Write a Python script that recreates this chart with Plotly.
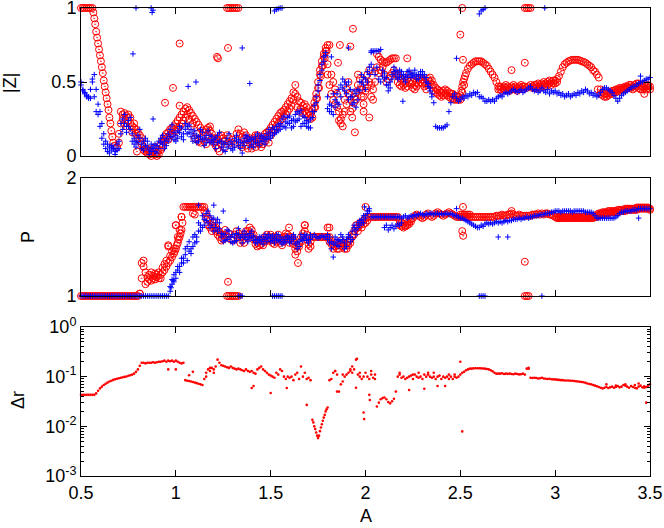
import numpy as np
import plotly.graph_objects as go

N = None
# parameter A, sampled every 0.01 from 0.5 to 3.5
A = np.round(np.linspace(0.5, 3.5, 301), 2)

# ---- |Z| panel ----
zr_a = [
    1, 1, 1, 1, 1, 1, 1, 0.93, 0.84, 0.76,
    0.68, 0.60, 0.51, 0.43, 0.35, 0.26, 0.17, 0.09, 0.07, 0.06,
    0.09, 0.22, 0.28, 0.29, 0.27, 0.24, 0.22, 0.20, 0.19, 0.15,
    0.12, 0.10, 0.08, 0.06, 0.03, 0.02, 0.01, 0.02, 0.03, 0.01,
    0.02, 0.04, 0.08, 0.10, 0.13, 0.15, 0.16, 0.18, 0.19, 0.20,
    0.22, 0.24, 0.26, 0.28, 0.30, 0.32, 0.33, 0.31, 0.29, 0.27,
    0.25, 0.23, 0.21, 0.19, 0.17, 0.16, 0.18, 0.19, 0.17, 0.15,
    0.12, 0.10, 0.11, 0.13, 0.14, 0.12, 0.10, 1, 1, 1,
    1, 1, 1, 1, 0.15, 0.13, 0.12, 0.14, 0.11, 0.09,
    0.10, 0.12, 0.14, 0.11, 0.08, 0.10, 0.13, 0.15, 0.16, 0.17,
    0.19, 0.21, 0.23, 0.25, 0.27, 0.29, 0.30, 0.31, 0.33, 0.35,
    0.37, 0.39, 0.43, 0.48, 0.40, 0.37, 0.36, 0.34, 0.35, 0.33,
    0.30, 0.28, 0.31, 0.36, 0.42, 0.50, 0.58, 0.64, 0.69, 0.73,
    0.75, 0.75, 0.55, 0.50, 0.45, 0.42, 0.30, 0.25, 0.28, 0.38,
    0.45, 0.42, 0.38, 0.32, 0.36, 0.43, 0.48, 0.52, 0.45, 0.40,
    0.50, 0.55, 0.58, 0.48, 0.45, 0.57, 0.69, 0.67, 0.65, 0.64,
    0.63, 0.63, 0.64, 0.65, 0.66, 0.66, 0.66, 0.55, 0.53, 0.52,
    0.50, 0.49, 0.52, 0.55, 0.53, 0.50, 0.48, 0.50, 0.52, 0.53,
    0.52, 0.50, 0.48, 0.52, 0.53, 0.51, 0.48, 0.46, 0.45, 0.44,
    0.43, 0.44, 0.45, 0.44, 0.43, 0.42, 0.42, 0.41, 0.40, 0.40,
    0.41, 0.47, 0.52, 0.56, 0.59, 0.61, 0.62, 0.63, 0.64, 0.64,
    0.64, 0.64, 0.63, 0.62, 0.61, 0.59, 0.57, 0.55, 0.53, 0.50,
    0.47, 0.47, 0.46, 0.47, 0.48, 0.47, 0.46, 0.47, 0.48, 0.47,
    0.46, 0.47, 0.48, 0.47, 1, 1, 1, 1, 0.47, 0.48,
    0.48, 0.49, 0.48, 0.49, 0.50, 0.49, 0.50, 0.51, 0.50, 0.51,
    0.51, 0.52, 0.54, 0.57, 0.60, 0.62, 0.63, 0.64, 0.645, 0.65,
    0.65, 0.65, 0.65, 0.645, 0.64, 0.635, 0.63, 0.62, 0.61, 0.60,
    0.58, 0.57, 0.55, 0.53, 0.45, 0.43, 0.42, 0.42, 0.43, 0.43,
    0.44, 0.44, 0.45, 0.45, 0.46, 0.46, 0.46, 0.47, 0.47, 0.48,
    0.48, 0.47, 0.48, 0.49, 0.49, 0.48, 0.47, 0.48, 0.47, 0.48,
    0.47,
]
zr_b = [
    N, N, N, N, N, N, N, N, N, N,
    N, N, N, N, N, N, N, N, N, N,
    0.15, 0.30, 0.25, 0.22, 0.20, 0.28, 0.26, 0.16, 0.22, 0.18,
    0.16, 0.14, 0.12, 0.04, 0.05, 0.05, 0.03, 0.00, 0.05, 0.06,
    0.00, 0.01, 0.04, 0.06, 0.10, 0.12, 0.11, 0.14, 0.15, 0.13,
    0.17, 0.19, 0.20, 0.22, 0.24, 0.26, 0.28, 0.25, 0.20, 0.22,
    0.12, 0.15, 0.10, 0.09, 0.12, 0.10, 0.08, 0.14, 0.20, 0.12,
    0.09, 0.07, 0.05, 0.03, 0.08, 0.10, 0.06, 0.14, 0.12, 0.09,
    0.11, 0.08, 0.15, 0.18, 0.08, 0.06, 0.16, 0.07, 0.05, 0.12,
    0.05, 0.08, 0.06, 0.14, 0.12, 0.06, 0.08, 0.10, 0.12, 0.09,
    0.14, 0.16, 0.18, 0.20, 0.22, 0.24, 0.25, 0.27, 0.28, 0.30,
    0.32, 0.34, 0.38, 0.42, 0.33, 0.30, 0.32, 0.29, 0.30, 0.29,
    0.27, 0.25, 0.26, 0.33, 0.39, 0.46, 0.55, 0.61, 0.67, 0.71,
    0.62, 0.48, 0.42, 0.38, 0.35, 0.33, 0.24, 0.22, 0.20, 0.30,
    0.35, 0.50, 0.30, 0.26, 0.40, 0.38, 0.55, 0.45, 0.40, 0.35,
    0.44, 0.46, 0.50, 0.40, 0.38, 0.50, 0.60, 0.56, 0.58, 0.60,
    0.55, 0.50, 0.52, 0.54, 0.56, 0.58, 0.55, 0.50, 0.48, 0.47,
    0.48, 0.46, 0.47, 0.50, 0.49, 0.46, 0.45, 0.47, 0.49, 0.50,
    0.49, 0.47, 0.45, 0.48, 0.50, 0.48, 0.44, 0.43, 0.42, 0.41,
    0.40, 0.41, 0.42, 0.41, 0.40, 0.39, 0.39, 0.38, 0.38, 0.38,
    0.38, 0.43, 0.48, N, N, N, N, N, N, N,
    N, N, N, N, N, N, N, N, N, N,
    0.45, 0.45, 0.44, 0.45, 0.46, 0.45, 0.44, 0.45, 0.46, 0.45,
    0.44, 0.45, 0.46, 0.45, 0.47, 0.46, 0.47, 0.48, 0.46, 0.46,
    0.46, 0.47, 0.46, 0.47, 0.48, 0.47, 0.48, 0.49, 0.48, 0.49,
    0.49, 0.50, N, N, N, N, N, N, N, N,
    N, N, N, N, N, N, N, N, N, N,
    N, N, N, N, 0.42, 0.41, 0.40, 0.40, 0.41, 0.42,
    0.42, 0.43, 0.43, 0.44, 0.44, 0.45, 0.45, 0.45, 0.46, 0.46,
    0.46, 0.45, 0.46, 0.47, 0.46, 0.45, 0.45, 0.46, 0.45, 0.46,
    0.45,
]
zr_ex_x = [0.565, 0.575, 0.585, 0.595, 0.605, 0.615, 0.625, 0.635, 0.645, 0.655, 0.665,
           1.735, 1.745, 1.755, 1.765, 1.775, 1.785, 1.795, 2.505, 2.515, 2.525,
           1.02, 1.217, 1.222, 1.275, 0.985, 0.943, 1.02, 0.795,
           1.934, 1.944, 1.855, 1.865, 1.92, 1.80,
           2.51, 2.50, 2.514, 2.77, 2.84, 2.22, 2.02, 1.99, 3.47, 3.225]
zr_ex_y = [0.97, 0.89, 0.80, 0.72, 0.64, 0.56, 0.47, 0.39, 0.31, 0.22, 0.13,
           0.33, 0.39, 0.46, 0.54, 0.61, 0.66, 0.71, 0.44, 0.50, 0.54,
           0.76, 0.67, 0.66, 0.73, 0.46, 0.36, 0.34, 0.03,
           0.86, 0.16, 0.63, 0.75, 0.74, 0.55,
           1.0, 0.82, 0.65, 0.58, 0.63, 0.66, 0.26, 0.30, 0.42, 0.45]

zb_a = [
    0.50, 0.45, 0.43, 0.41, 0.40, 0.39, 0.52, 0.55, 0.45, 0.35,
    0.30, 0.22, 0.15, 0.10, 0.08, 0.06, 0.07, 0.05, 0.03, 0.08,
    0.10, 0.15, 0.25, 0.22, 0.20, 0.24, 0.18, 0.15, 0.12, 0.10,
    0.14, 0.12, 0.08, 0.10, 0.12, 0.06, 0.04, 0.08, 0.05, 0.03,
    0.07, 0.10, 0.12, 0.08, 0.05, 0.12, 0.15, 0.18, 0.13, 0.11,
    0.14, 0.17, 0.16, 0.19, 0.15, 0.18, 0.20, 0.16, 0.13, 0.15,
    0.12, 0.14, 0.10, 0.13, 0.16, 0.12, 0.09, 0.11, 0.14, 0.10,
    0.08, 0.12, 0.14, 0.10, 0.06, 0.04, 0.09, 0.12, 0.08, 0.05,
    0.08, 0.12, 0.10, 0.07, 0.05, 0.09, 0.12, 0.14, 0.10, 0.06,
    0.08, 0.11, 0.13, 0.09, 0.12, 0.14, 0.10, 0.12, 0.15, 0.13,
    0.16, 0.14, 0.18, 0.20, 0.17, 0.22, 0.25, 0.20, 0.23, 0.26,
    0.22, 0.19, 0.25, 0.28, 0.24, 0.29, 0.31, 0.22, 0.26, 0.20,
    0.23, 0.19, 0.30, 0.34, 0.40, 0.48, 0.55, 0.62, 0.67, 0.70,
    0.40, 0.35, 0.30, 0.28, 0.38, 0.42, 0.35, 0.48, 0.52, 0.44,
    0.42, 0.38, 0.45, 0.40, 0.36, 0.33, 0.45, 0.50, 0.55, 0.48,
    0.52, 0.57, 0.60, 0.71, 0.71, 0.71, 0.71, 0.71, 0.72, 0.58,
    0.56, 0.53, 0.48, 0.46, 0.55, 0.57, 0.54, 0.56, 0.58, 0.55,
    0.52, 0.54, 0.57, 0.55, 0.53, 0.56, 0.54, 0.52, 0.55, 0.57,
    0.55, 0.53, 0.50, 0.47, 0.44, 0.40, 0.36, 0.20, 0.19, 0.19,
    0.19, 0.19, 0.20, 0.21, 0.30, 0.36, 0.40, 0.42, 0.39, 0.37,
    0.38, 0.40, 0.39, 0.41, 0.40, 0.42, 0.41, 0.43, 0.42, 0.43,
    0.40, 0.40, 0.39, 0.37, 0.37, 0.38, 0.37, 0.38, 0.37, 0.39,
    0.40, 0.41, 0.40, 0.42, 0.43, 0.42, 0.43, 0.44, 0.45, 0.44,
    0.43, 0.44, 0.45, 0.43, 0.44, 0.45, 0.46, 0.47, 0.45, 0.44,
    0.45, 0.43, 0.44, 0.46, 0.44, 0.43, 0.45, 0.42, 0.44, 0.43,
    0.44, 0.42, 0.43, 0.41, 0.42, 0.40, 0.41, 0.42, 0.40, 0.41,
    0.42, 0.41, 0.43, 0.42, 0.44, 0.43, 0.45, 0.44, 0.42, 0.43,
    0.41, 0.42, 0.40, 0.41, 0.43, 0.45, 0.46, 0.46, 0.45, 0.44,
    0.43, 0.41, 0.39, 0.37, 0.39, 0.41, 0.42, 0.43, 0.44, 0.45,
    0.46, 0.47, 0.47, 0.48, 0.49, 0.50, 0.50, 0.51, 0.52, 0.52,
    0.53,
]
zb_b = [
    0.48, 0.44, 0.42, 0.40, 0.39, 0.45, 0.50, 0.40, 0.30, 0.28,
    0.20, 0.12, 0.08, 0.05, 0.03, 0.02, 0.04, 0.06, 0.01, 0.04,
    0.05, 0.22, 0.18, 0.28, 0.16, 0.20, 0.26, 0.10, 0.08, 0.06,
    0.09, 0.18, 0.05, 0.04, 0.07, 0.10, 0.01, 0.03, 0.06, 0.08,
    0.02, 0.05, 0.09, 0.14, 0.10, 0.07, 0.10, 0.13, 0.21, 0.16,
    0.10, 0.12, 0.20, 0.13, 0.11, 0.22, 0.15, 0.21, 0.18, 0.10,
    0.17, 0.09, 0.13, 0.18, 0.11, 0.07, 0.14, 0.17, 0.09, 0.13,
    0.11, 0.05, 0.09, 0.16, 0.10, 0.08, 0.03, 0.06, 0.15, 0.10,
    0.04, 0.06, 0.14, 0.11, 0.09, 0.02, 0.07, 0.10, 0.13, 0.11,
    0.12, 0.06, 0.09, 0.15, 0.07, 0.10, 0.13, 0.08, 0.11, 0.18,
    0.12, 0.19, 0.15, 0.16, 0.21, 0.18, 0.20, 0.27, 0.19, 0.22,
    0.27, 0.24, 0.20, 0.23, 0.30, 0.25, 0.20, 0.27, 0.22, 0.24,
    0.19, 0.25, 0.26, 0.30, 0.36, 0.44, 0.51, 0.58, 0.64, 0.68,
    0.32, 0.30, 0.34, 0.42, 0.33, 0.36, 0.45, 0.40, 0.46, 0.50,
    0.48, 0.50, 0.40, 0.35, 0.44, 0.42, 0.38, 0.44, 0.50, 0.53,
    0.45, 0.50, 0.55, 0.62, 0.58, 0.55, 0.60, 0.52, 0.50, 0.54,
    0.52, 0.48, 0.44, 0.50, 0.52, 0.60, 0.58, 0.52, 0.53, 0.57,
    0.55, 0.50, 0.53, 0.58, 0.56, 0.54, 0.58, 0.55, 0.52, 0.54,
    0.57, 0.55, 0.53, 0.49, 0.46, 0.42,
]
zb_ex_x = [0.79, 0.87, 0.875, 0.88, 1.52, 1.53, 1.54, 1.55, 1.56, 2.60, 2.61, 2.62, 2.63, 2.945,
           0.774, 1.106, 1.065, 1.35, 1.39, 1.82, 1.91, 2.03, 2.48, 2.197, 3.45, 0.88]
zb_ex_y = [1.0, 1.0, 0.97, 0.985, 0.98, 0.99, 0.995, 1.0, 1.0, 0.96, 0.98, 0.99, 1.0, 1.0,
           0.69, 0.50, 0.47, 0.73, 0.49, 0.67, 0.73, 0.70, 0.66, 0.37, 0.54, 0.25]

# ---- P panel ----
pr_a = [
    1, 1, 1, 1, 1, 1, 1, 1, 1, 1,
    1, 1, 1, 1, 1, 1, 1, 1, 1, 1,
    1, 1, 1, 1, 1, 1, 1, 1, 1, 1,
    1.00, 1.02, 1.15, 1.25, 1.20, 1.16, 1.14, 1.13, 1.15, 1.14,
    1.16, 1.15, 1.18, 1.20, 1.22, 1.25, 1.28, 1.30, 1.33, 1.36,
    1.40, 1.45, 1.50, 1.56, 1.755, 1.755, 1.755, 1.755, 1.755, 1.755,
    1.755, 1.755, 1.755, 1.755, 1.755, 1.755, 1.70, 1.66, 1.64, 1.60,
    1.58, 1.55, 1.52, 1.50, 1.47, 1.48, 1.52, 1.00, 1.00, 1.00,
    1.00, 1.00, 1.00, 1.00, 1.50, 1.47, 1.45, 1.50, 1.55, 1.58,
    1.56, 1.52, 1.48, 1.45, 1.43, 1.44, 1.47, 1.50, 1.52, 1.50,
    1.48, 1.45, 1.47, 1.50, 1.48, 1.45, 1.43, 1.46, 1.50, 1.52,
    1.50, 1.47, 1.44, 1.40, 1.38, 1.42, 1.46, 1.50, 1.55, 1.48,
    1.44, 1.46, 1.50, 1.50, 1.50, 1.50, 1.50, 1.50, 1.50, 1.50,
    1.50, 1.50, 1.47, 1.44, 1.42, 1.40, 1.43, 1.45, 1.42, 1.40,
    1.43, 1.46, 1.48, 1.52, 1.55, 1.57, 1.58, 1.60, 1.62, 1.64,
    1.66, 1.67, 1.67, 1.67, 1.67, 1.67, 1.67, 1.67, 1.67, 1.67,
    1.67, 1.67, 1.67, 1.67, 1.67, 1.67, 1.67, 1.67, 1.64, 1.62,
    1.61, 1.60, 1.62, 1.63, 1.65, 1.66, 1.68, 1.69, 1.68, 1.67,
    1.66, 1.67, 1.69, 1.70, 1.68, 1.67, 1.68, 1.70, 1.71, 1.70,
    1.69, 1.68, 1.69, 1.70, 1.71, 1.70, 1.69, 1.68, 1.67, 1.67,
    1.67, 1.67, 1.67, 1.67, 1.67, 1.67, 1.67, 1.67, 1.67, 1.67,
    1.67, 1.67, 1.67, 1.67, 1.67, 1.67, 1.67, 1.67, 1.67, 1.68,
    1.68, 1.68, 1.69, 1.68, 1.68, 1.69, 1.69, 1.70, 1.69, 1.68,
    1.68, 1.69, 1.68, 1.68, 1.00, 1.00, 1.00, 1.68, 1.69, 1.69,
    1.69, 1.70, 1.69, 1.70, 1.69, 1.70, 1.70, 1.69, 1.69, 1.68,
    1.67, 1.66, 1.66, 1.66, 1.66, 1.66, 1.66, 1.66, 1.66, 1.66,
    1.66, 1.66, 1.66, 1.66, 1.66, 1.66, 1.66, 1.66, 1.66, 1.66,
    1.67, 1.68, 1.69, 1.70, 1.70, 1.71, 1.71, 1.71, 1.72, 1.72,
    1.72, 1.72, 1.72, 1.73, 1.73, 1.73, 1.73, 1.74, 1.74, 1.74,
    1.74, 1.74, 1.74, 1.75, 1.75, 1.75, 1.75, 1.75, 1.75, 1.75,
    1.74,
]
pr_b = [
    N, N, N, N, N, N, N, N, N, N,
    N, N, N, N, N, N, N, N, N, N,
    N, N, N, N, N, N, N, N, N, N,
    N, N, 1.28, 1.30, 1.10, 1.12, 1.18, 1.20, 1.17, 1.19,
    1.18, 1.20, 1.15, 1.24, 1.27, 1.30, 1.42, 1.34, 1.38, 1.40,
    1.60, 1.50, 1.56, 1.67, N, N, N, N, N, 1.70,
    1.69, N, N, N, N, 1.72, 1.65, 1.60, 1.58, 1.55,
    1.62, 1.58, 1.56, 1.54, 1.52, 1.52, 1.56, 1.50, 1.53, 1.48,
    1.47, 1.52, 1.55, 1.53, 1.45, 1.50, 1.52, 1.55, 1.50, 1.53,
    1.52, 1.48, 1.44, 1.42, 1.47, 1.48, 1.43, 1.46, 1.48, 1.47,
    1.52, 1.50, 1.44, 1.46, 1.52, 1.49, 1.47, 1.50, 1.53, 1.48,
    1.45, 1.50, 1.47, 1.35, 1.42, 1.45, 1.50, 1.53, 1.60, 1.52,
    1.40, 1.42, N, N, N, N, N, N, N, N,
    1.58, 1.46, 1.44, 1.40, 1.45, 1.43, 1.40, 1.47, 1.45, 1.44,
    1.40, 1.43, 1.45, 1.50, 1.52, 1.60, 1.55, 1.62, 1.58, 1.61,
    1.62, 1.64, N, N, N, N, N, N, N, N,
    N, N, N, N, N, N, N, N, 1.60, 1.59,
    1.58, 1.59, 1.60, 1.61, 1.63, N, N, N, N, N,
    N, N, N, N, N, N, N, N, N, N,
    N, N, N, N, N, N, N, N, N, N,
    1.69, 1.69, 1.69, 1.69, 1.69, 1.69, N, N, N, N,
    N, N, N, N, N, N, N, N, N, N,
    N, N, N, N, N, N, N, N, N, N,
    N, N, N, N, 1.68, 1.68, 1.68, N, N, N,
    N, N, N, N, N, N, N, N, N, N,
    N, 1.67, 1.67, 1.67, 1.67, 1.67, 1.67, 1.67, 1.67, 1.67,
    1.67, 1.67, 1.67, 1.67, 1.67, 1.67, 1.67, 1.67, 1.67, 1.67,
    1.66, 1.67, 1.67, 1.68, 1.69, 1.69, 1.70, 1.70, 1.70, 1.71,
    1.71, 1.71, 1.71, 1.71, 1.72, 1.72, 1.72, 1.72, 1.73, 1.73,
    1.73, 1.73, 1.73, 1.73, 1.74, 1.74, 1.74, 1.74, 1.74, 1.74,
    1.73,
]
pr_ex_x = [0.81, 0.96, 1.0, 1.03, 1.275, 1.597, 1.644, 1.68, 1.81, 2.0,
           2.514, 2.51, 2.515, 2.77, 2.84, 0.995, 1.005, 1.015, 1.025, 1.035]
pr_ex_y = [1.02, 1.43, 1.60, 1.67, 1.12, 1.58, 1.28, 1.60, 1.58, 1.755,
           1.755, 1.55, 1.51, 1.72, 1.29, 1.38, 1.43, 1.48, 1.53, 1.62]

pb_a = [
    1, 1, 1, 1, 1, 1, 1, 1, 1, 1,
    1, 1, 1, 1, 1, 1, 1, 1, 1, 1,
    1, 1, 1, 1, 1, 1, 1, 1, 1, 1,
    1, 1, 1, 1, 1, 1, 1, 1, 1, 1,
    1, 1, 1, 1, 1, 1, 1, 1.04, 1.10, 1.18,
    1.15, 1.22, 1.25, 1.28, 1.32, 1.35, 1.30, 1.38, 1.40, 1.42,
    1.45, 1.50, 1.55, 1.60, 1.58, 1.65, 1.70, 1.62, 1.68, 1.60,
    1.66, 1.58, 1.55, 1.62, 1.50, 1.46, 1.52, 1.48, 1.55, 1.50,
    1.45, 1.50, 1.47, 1.52, 1.49, 1.52, 1.55, 1.48, 1.50, 1.53,
    1.50, 1.47, 1.45, 1.48, 1.50, 1.46, 1.44, 1.48, 1.50, 1.52,
    1.50, 1.47, 1.45, 1.48, 1.52, 1.46, 1.48, 1.45, 1.50, 1.48,
    1.45, 1.50, 1.52, 1.44, 1.40, 1.46, 1.48, 1.50, 1.52, 1.47,
    1.45, 1.48, 1.50, 1.52, 1.50, 1.49, 1.50, 1.51, 1.50, 1.50,
    1.52, 1.45, 1.40, 1.33, 1.45, 1.48, 1.42, 1.46, 1.50, 1.45,
    1.48, 1.50, 1.46, 1.55, 1.58, 1.52, 1.62, 1.60, 1.65, 1.62,
    1.68, 1.70, 1.72, 1.67, 1.67, 1.67, 1.67, 1.67, 1.67, 1.67,
    1.67, 1.67, 1.67, 1.67, 1.67, 1.67, 1.67, 1.67, 1.67, 1.66,
    1.67, 1.68, 1.66, 1.67, 1.68, 1.67, 1.69, 1.68, 1.69, 1.70,
    1.69, 1.68, 1.70, 1.69, 1.70, 1.70, 1.69, 1.70, 1.70, 1.69,
    1.70, 1.69, 1.70, 1.70, 1.69, 1.70, 1.69, 1.68, 1.68, 1.67,
    1.66, 1.66, 1.65, 1.64, 1.63, 1.62, 1.61, 1.60, 1.59, 1.58,
    1.58, 1.60, 1.59, 1.61, 1.62, 1.61, 1.62, 1.61, 1.62, 1.63,
    1.62, 1.63, 1.62, 1.63, 1.64, 1.63, 1.64, 1.64, 1.65, 1.65,
    1.65, 1.66, 1.65, 1.66, 1.66, 1.67, 1.66, 1.67, 1.67, 1.68,
    1.68, 1.68, 1.69, 1.69, 1.69, 1.70, 1.70, 1.70, 1.71, 1.71,
    1.72, 1.72, 1.72, 1.71, 1.72, 1.72, 1.72, 1.72, 1.72, 1.71,
    1.72, 1.72, 1.72, 1.72, 1.72, 1.72, 1.71, 1.71, 1.71, 1.71,
    1.70, 1.68, 1.66, 1.66, 1.66, 1.66, 1.66, 1.66, 1.66, 1.66,
    1.66, 1.66, 1.67, 1.68, 1.70, 1.71, 1.71, 1.72, 1.72, 1.72,
    1.72, 1.73, 1.73, 1.73, 1.74, 1.74, 1.74, 1.74, 1.74, 1.74,
    1.74,
]
pb_b = [
    N, N, N, N, N, N, N, N, N, N,
    N, N, N, N, N, N, N, N, N, N,
    N, N, N, N, N, N, N, N, N, N,
    N, N, N, N, N, N, N, N, N, N,
    N, N, N, N, N, N, N, 1.08, 1.14, 1.12,
    1.20, 1.25, 1.20, 1.32, 1.28, 1.40, 1.42, 1.46, 1.36, 1.50,
    1.52, 1.46, 1.62, 1.55, 1.68, 1.60, 1.64, 1.72, 1.58, 1.65,
    1.55, 1.62, 1.65, 1.57, 1.53, 1.52, 1.47, 1.56, 1.50, 1.46,
    1.52, 1.46, 1.53, 1.57, 1.50, 1.45, 1.50, 1.52, 1.46, 1.49,
    1.55, 1.51, 1.48, 1.45, 1.47, 1.50, 1.48, 1.52, 1.46, 1.49,
    1.46, 1.51, 1.49, 1.52, 1.47, 1.50, 1.44, 1.48, 1.46, 1.51,
    1.49, 1.46, 1.48, 1.50, 1.45, 1.42, 1.52, 1.47, 1.49, 1.51,
    1.48, 1.52, N, N, N, N, N, N, N, N,
    1.48, 1.50, 1.46, 1.44, 1.50, 1.43, 1.47, 1.52, 1.48, 1.40,
    1.42, 1.52, 1.50, 1.48, 1.60, 1.56, 1.58, 1.64, 1.62, 1.68,
    1.66, 1.72, 1.74, N, N, N, N, N, N, N,
    1.58, 1.60, 1.56, 1.58, 1.60, 1.57, 1.59, 1.61, 1.60, 1.62,
]
pb_ex_x = [1.12, 1.20, 1.25, 1.37, 1.33, 1.34, 1.35, 1.51, 1.52, 1.53, 1.54, 1.55, 1.56,
           2.60, 2.61, 2.62, 2.63, 2.93, 2.48, 2.70, 2.75, 3.44, 1.995, 0.975, 0.985]
pb_ex_y = [1.77, 1.77, 1.72, 1.64, 1.0, 1.0, 1.0, 1.0, 1.0, 1.0, 1.0, 1.0, 1.0,
           1.0, 1.0, 1.0, 1.0, 1.0, 1.74, 1.50, 1.50, 1.66, 1.755, 1.07, 1.13]

# ---- delta r panel ----
dr = [
    0.043, 0.043, 0.043, 0.043, 0.043, 0.043, 0.043, 0.043, 0.046, 0.052,
    0.058, 0.063, 0.068, 0.072, 0.076, 0.080, 0.083, 0.086, 0.089, 0.091,
    0.093, 0.095, 0.097, 0.099, 0.101, 0.104, 0.107, 0.110, 0.115, 0.125,
    0.140, 0.165, 0.19, 0.19, 0.185, 0.19, 0.19, 0.19, 0.195, 0.19,
    0.195, 0.20, 0.20, 0.205, 0.21, 0.20, 0.21, 0.205, 0.21, 0.20,
    0.21, 0.20, 0.19, 0.185, 0.19, 0.085, 0.083, 0.082, 0.08, 0.078,
    0.076, 0.074, 0.072, 0.07, 0.068, 0.09, 0.12, 0.14, 0.13, 0.15,
    0.14, 0.16, 0.22, 0.19, 0.17, 0.165, 0.16, 0.155, 0.15, 0.16,
    0.15, 0.145, 0.14, 0.145, 0.14, 0.135, 0.13, 0.14, 0.13, 0.125,
    0.13, 0.12, 0.115, 0.14, 0.15, 0.16, 0.14, 0.13, 0.12, 0.11,
    0.105, 0.10, 0.095, 0.12, 0.11, 0.14, 0.13, 0.10, 0.09, 0.10,
    0.095, 0.10, 0.085, 0.11, 0.12, 0.09, 0.16, 0.10, 0.12, 0.09,
    0.095, 0.085, 0.0135, 0.010, 0.0075, 0.0058, 0.008, 0.011, 0.015, 0.020,
    0.024, 0.085, 0.09, 0.12, 0.13, 0.11, 0.05, 0.07, 0.08, 0.10,
    0.11, 0.12, 0.13, 0.12, 0.14, 0.22, 0.11, 0.10, 0.09, 0.10,
    0.12, 0.10, 0.09, 0.11, 0.095, 0.09, 0.025, 0.03, 0.035, 0.037,
    0.038, 0.035, 0.031, 0.029, 0.032, 0.036, 0.05, 0.10, 0.11, 0.095,
    0.10, 0.09, 0.095, 0.10, 0.105, 0.09, 0.11, 0.10, 0.095, 0.10,
    0.09, 0.11, 0.10, 0.12, 0.10, 0.095, 0.10, 0.09, 0.10, 0.105,
    0.09, 0.10, 0.095, 0.10, 0.11, 0.10, 0.09, 0.10, 0.095, 0.10,
    0.11, 0.12, 0.125, 0.135, 0.14, 0.145, 0.145, 0.147, 0.148, 0.148,
    0.148, 0.147, 0.146, 0.145, 0.143, 0.14, 0.135, 0.128, 0.12, 0.115,
    0.115, 0.115, 0.117, 0.113, 0.115, 0.114, 0.115, 0.113, 0.112, 0.115,
    0.113, 0.111, 0.112, 0.115, 0.11, 0.145, 0.15, 0.095, 0.094, 0.095,
    0.094, 0.092, 0.093, 0.095, 0.092, 0.091, 0.09, 0.091, 0.089, 0.088,
    0.088, 0.087, 0.086, 0.085, 0.085, 0.084, 0.084, 0.084, 0.083, 0.083,
    0.082, 0.081, 0.080, 0.079, 0.078, 0.077, 0.075, 0.073, 0.071, 0.070,
    0.068, 0.066, 0.064, 0.062, 0.060, 0.058, 0.060, 0.062, 0.059, 0.061,
    0.063, 0.060, 0.062, 0.065, 0.061, 0.063, 0.068, 0.066, 0.063, 0.060,
    0.065, 0.062, 0.060, 0.058, 0.063, 0.066, 0.061, 0.064, 0.062, 0.066,
    0.07,
]
dr_ex_x = [0.96, 1.0, 1.07, 1.09, 1.16, 1.18, 1.20, 1.40, 1.41, 1.50, 1.585, 1.69,
           1.725, 1.735, 1.745, 1.755, 1.765, 1.775, 1.785, 1.795,
           1.84, 1.85, 1.88, 1.92, 1.93, 1.95, 1.955, 1.97, 1.99, 1.993,
           2.02, 2.023, 2.03, 2.05, 2.18, 2.23, 2.25, 2.28, 2.31, 2.33,
           2.36, 2.38, 2.42, 2.44, 2.47, 2.50, 2.51, 2.86,
           3.27, 3.32, 3.37, 3.42, 3.44, 3.47, 3.48]
dr_ex_y = [0.14, 0.14, 0.107, 0.125, 0.10, 0.15, 0.12, 0.059, 0.065, 0.047, 0.059, 0.027,
           0.012, 0.0088, 0.0065, 0.0065, 0.0095, 0.013, 0.017, 0.022,
           0.13, 0.05, 0.11, 0.14, 0.16, 0.06, 0.23, 0.12, 0.019, 0.014,
           0.043, 0.034, 0.13, 0.11, 0.12, 0.054, 0.11, 0.12, 0.057, 0.11,
           0.12, 0.065, 0.065, 0.09, 0.11, 0.20, 0.0079, 0.145,
           0.07, 0.066, 0.07, 0.068, 0.073, 0.06, 0.03]


def collect(branches, ex_x, ex_y):
    xs, ys = [], []
    for vals in branches:
        for a, v in zip(A, vals):
            if v is not None:
                xs.append(float(a))
                ys.append(v)
    return xs + ex_x, ys + ex_y


RED = "#ff0000"
BLUE = "#0000ff"
circ = dict(symbol="circle-open-dot", size=7, color=RED, line=dict(width=1, color=RED))
plus = dict(symbol="cross-thin", size=4, color=BLUE, line=dict(width=1, color=BLUE))
dot = dict(symbol="circle", size=2.6, color=RED)

fig = go.Figure()
x, y = collect([zr_a, zr_b], zr_ex_x, zr_ex_y)
fig.add_trace(go.Scatter(x=x, y=y, mode="markers", marker=circ, xaxis="x", yaxis="y", cliponaxis=False))
x, y = collect([zb_a, zb_b], zb_ex_x, zb_ex_y)
fig.add_trace(go.Scatter(x=x, y=y, mode="markers", marker=plus, xaxis="x", yaxis="y", cliponaxis=False))
x, y = collect([pr_a, pr_b], pr_ex_x, pr_ex_y)
fig.add_trace(go.Scatter(x=x, y=y, mode="markers", marker=circ, xaxis="x2", yaxis="y2", cliponaxis=False))
x, y = collect([pb_a, pb_b], pb_ex_x, pb_ex_y)
fig.add_trace(go.Scatter(x=x, y=y, mode="markers", marker=plus, xaxis="x2", yaxis="y2", cliponaxis=False))
x, y = collect([dr], dr_ex_x, dr_ex_y)
fig.add_trace(go.Scatter(x=x, y=y, mode="markers", marker=dot, xaxis="x3", yaxis="y3", cliponaxis=False))

FONT = "Liberation Sans, Arial, sans-serif"
ax = dict(showline=True, linecolor="black", linewidth=1, mirror="ticks", ticks="inside",
          ticklen=6, tickcolor="black", showgrid=False, zeroline=False, automargin=False,
          ticklabeloverflow="allow", tickfont=dict(family=FONT, size=18, color="black"))
xt = [0.5, 1, 1.5, 2, 2.5, 3, 3.5]
minor_vals = [m * 10.0 ** k for k in (-3, -2, -1) for m in range(2, 10)]

fig.update_layout(
    width=664, height=528,
    margin=dict(l=81, r=14, t=8, b=52, autoexpand=False),
    plot_bgcolor="white", paper_bgcolor="white",
    showlegend=False,
    xaxis=dict(ax, domain=[0, 1], range=[0.5, 3.5], tickvals=xt, showticklabels=False, anchor="y"),
    yaxis=dict(ax, domain=[0.68376, 1], range=[0, 1], tickvals=[0, 0.5, 1], anchor="x"),
    xaxis2=dict(ax, domain=[0, 1], range=[0.5, 3.5], tickvals=xt, showticklabels=False, anchor="y2"),
    yaxis2=dict(ax, domain=[0.38462, 0.63675], range=[1, 2], tickvals=[1, 2], anchor="x2"),
    xaxis3=dict(ax, domain=[0, 1], range=[0.5, 3.5], tickvals=xt, anchor="y3"),
    yaxis3=dict(ax, domain=[0, 0.31838], type="log", range=[-3, 0],
                tickvals=[0.001, 0.01, 0.1, 1],
                ticktext=["10<sup>-3</sup>", "10<sup>-2</sup>", "10<sup>-1</sup>", "10<sup>0</sup>"],
                minor=dict(ticks="inside", ticklen=3, tickcolor="black", tickvals=minor_vals),
                anchor="x3"),
)

lab = dict(family=FONT, size=18, color="black")
ann = dict(xref="paper", yref="paper", showarrow=False, xanchor="center", yanchor="middle", font=lab)
fig.add_annotation(text="|Z|", x=-0.1248, y=0.8397, textangle=-90, **ann)
fig.add_annotation(text="P", x=-0.0931, y=0.5107, textangle=-90, **ann)
fig.add_annotation(text="Δr", x=-0.1107, y=0.1624, textangle=-90, **ann)
fig.add_annotation(text="A", x=0.5009, y=-0.086, **ann)

# the page body has a default 8px margin; drop it so the figure sits at the window corner
fig.write_html("out.html", config={"displayModeBar": False},
               post_script="document.body.style.margin='0';")
